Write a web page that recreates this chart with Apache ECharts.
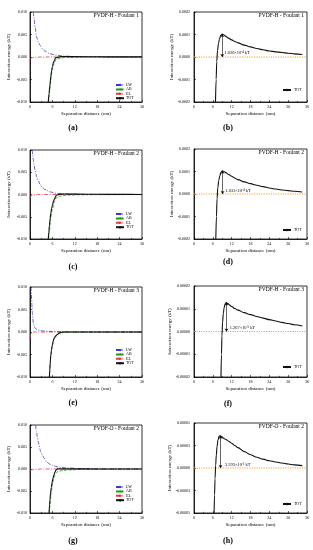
<!DOCTYPE html>
<html><head><meta charset="utf-8">
<script src="https://cdn.jsdelivr.net/npm/echarts@6/dist/echarts.min.js"></script>
<style>html,body{margin:0;padding:0;background:#fff}#c{width:313px;height:550px}</style>
</head><body><div id="c"></div>
<script>
// ---------- DATA ----------
const panelLetters = ['(a)','(b)','(c)','(d)','(e)','(f)','(g)','(h)'];
const panelTitles = ['PVDF-H - Foulant 1','PVDF-H - Foulant 1','PVDF-H - Foulant 2','PVDF-H - Foulant 2','PVDF-H - Foulant 3','PVDF-H - Foulant 3','PVDF-O - Foulant 2','PVDF-O - Foulant 2'];
const seriesNames = ['LW','AB','EL','TOT'];
const leftXTicks = [0,6,12,18,24,30];
const rightXTicks = [0,6,12,18,24,30,36];
const leftYLabels = ['-0.010','-0.005','0.000','0.005','0.010'];
const rightYLabelsBD = ['-0.0002','-0.0001','0.0000','0.0001','0.0002'];
const rightYLabelsF = ['-0.00002','-0.00001','0.00000','0.00001','0.00002'];
const rightYLabelsH = ['-0.00005','-0.00003','0.00000','0.00003','0.00005'];

// (a)
const lwA = [[0.9,0.0100],[1.1,0.0085],[1.34,0.0067],[1.79,0.0044],[2.2,0.0034],[2.69,0.0026],[3.3,0.0018],[4.03,0.0013],[5.37,0.0007],[7.16,0.0004],[9,0.0002],[12,0.0001],[18,0.00004],[30,0.00001]];
const abA = [[5.0,-0.0100],[5.3,-0.0073],[5.55,-0.0052],[5.8,-0.0036],[6.0,-0.0027],[6.3,-0.0018],[6.6,-0.0011],[6.9,-0.0007],[7.5,-0.0004],[8.5,-0.0002],[10,-0.0001],[14,-0.00003],[30,0]];
const elA = [[0,-0.0004],[0.5,-0.0002],[1,-0.0001],[2,-0.00004],[4,0],[30,0]];
const totA = [[4.9,-0.0100],[5.1,-0.0082],[5.3,-0.0065],[5.55,-0.0045],[5.8,-0.0030],[6.0,-0.0021],[6.3,-0.0012],[6.6,-0.0006],[6.9,-0.0002],[7.5,-0.00002],[8.5,0.00009],[9,0.0001],[12,0.000076],[18,0.000045],[24,0.000027],[30,0.000017]];
// (b)
const totB = [[6.85,-0.0002],[7.05,-0.0001],[7.25,-0.00002],[7.5,0.00003],[7.8,0.00006],[8.1,0.00008],[8.5,0.000095],[9.0,0.000102],[9.4,0.000099],[10,0.000093],[11,0.000084],[12,0.000076],[13,0.000069],[14,0.000063],[16,0.000053],[18,0.000045],[20,0.000038],[22,0.000032],[24,0.000027],[26,0.000023],[28,0.00002],[30,0.000017],[32,0.000014],[34.5,0.000011]];
const peakB = [9.0,0.000102]; const noteB = [9.7,0.00002]; const textB = '1.020×10⁻⁴ kT';
// (c)
const lwC = [[0.6,0.0100],[0.75,0.0088],[0.9,0.0077],[1.1,0.0066],[1.34,0.0055],[1.79,0.0040],[2.2,0.0031],[2.7,0.0023],[3.3,0.0016],[4.0,0.0011],[5.4,0.0006],[6.7,0.0003],[9,0.00015],[12,0.00008],[18,0.00003],[30,0.00001]];
const abC = [[5.0,-0.0100],[5.2,-0.0082],[5.55,-0.0054],[6.0,-0.0033],[6.5,-0.0017],[7.0,-0.0008],[7.5,-0.0005],[8.5,-0.0003],[10,-0.00015],[14,-0.00005],[30,-0.00001]];
const elC = [[0,-0.0008],[0.3,-0.0003],[0.8,-0.0001],[2,0],[30,0]];
const totC = [[4.9,-0.0100],[5.05,-0.0085],[5.2,-0.0069],[5.35,-0.0057],[5.55,-0.0043],[5.8,-0.0031],[6.0,-0.0024],[6.25,-0.0016],[6.5,-0.0011],[6.8,-0.0006],[7.0,-0.0002],[7.5,-0.00002],[8.3,0.00008],[9.05,0.000103],[12,0.000079],[18,0.000046],[24,0.000027],[30,0.000016]];
// (d)
const totD = [[6.95,-0.0002],[7.15,-0.0001],[7.35,-0.00002],[7.6,0.00003],[7.9,0.00006],[8.2,0.00008],[8.6,0.000097],[9.05,0.000103],[9.5,0.0001],[10,0.000096],[11,0.000087],[12,0.000079],[13,0.000071],[14,0.000064],[16,0.000054],[18,0.000046],[20,0.000039],[22,0.000033],[24,0.000027],[26,0.000022],[28,0.000018],[30,0.000015],[32,0.000012],[34.5,0.000009]];
const peakD = [9.1,0.000103]; const noteD = [10.0,0.000012]; const textD = '1.031×10⁻⁴ kT';
// (e)
const lwE = [[0.27,0.0100],[0.35,0.0085],[0.45,0.0071],[0.55,0.0055],[0.63,0.0042],[0.75,0.0030],[0.9,0.0020],[1.1,0.0013],[1.34,0.0009],[1.7,0.0006],[2.2,0.0004],[3.6,0.0002],[6,0.0001],[12,0.00003],[30,0]];
const abE = [[5.25,-0.0100],[5.42,-0.0070],[5.55,-0.0055],[6.0,-0.0030],[6.5,-0.0014],[7.2,-0.0007],[7.9,-0.0003],[9,-0.0001],[12,-0.00003],[30,0]];
const elE = [[0,-0.0015],[0.15,-0.0005],[0.5,-0.0001],[1,0],[30,0]];
const totE = [[5.2,-0.0100],[5.3,-0.0085],[5.42,-0.0068],[5.55,-0.0053],[5.75,-0.0040],[6.0,-0.0028],[6.25,-0.0019],[6.5,-0.0013],[6.85,-0.0009],[7.2,-0.0006],[7.9,-0.0002],[8.6,-0.00002],[10.3,0.0000127],[18,0.0000074],[30,0.0000035]];
// (f)
const totF = [[8.6,-0.00002],[8.75,-0.00001],[8.9,-0.000002],[9.1,0.000004],[9.35,0.000008],[9.6,0.0000105],[9.9,0.0000121],[10.3,0.0000127],[10.8,0.0000123],[11.4,0.0000116],[12,0.000011],[13,0.0000101],[14,0.0000094],[16,0.0000083],[18,0.0000074],[20,0.0000066],[22,0.0000059],[24,0.0000052],[26,0.0000046],[28,0.000004],[30,0.0000035],[32,0.000003],[34.5,0.0000024]];
const peakF = [10.35,0.0000127]; const noteF = [11.4,0.0000017]; const textF = '1.267×10⁻⁵ kT';
// (g)
const lwG = [[1.5,0.0100],[1.7,0.0087],[1.96,0.0073],[2.2,0.0062],[2.4,0.0054],[2.85,0.0040],[3.3,0.0032],[3.74,0.0025],[4.6,0.0015],[5.3,0.0011],[6.0,0.0008],[7.3,0.0005],[8.5,0.00035],[10,0.00023],[14,0.0001],[20,0.00004],[30,0.00001]];
const abG = [[5.2,-0.0100],[5.35,-0.0082],[5.5,-0.0067],[5.7,-0.0053],[5.9,-0.0041],[6.1,-0.0031],[6.4,-0.0023],[6.7,-0.0014],[7.0,-0.0009],[7.4,-0.0006],[8.3,-0.0004],[10,-0.00022],[14,-0.0001],[20,-0.00004],[30,-0.00001]];
const elG = [[0,-0.0003],[1,-0.0001],[3,0],[30,0]];
const totG = [[5.1,-0.0100],[5.25,-0.0082],[5.35,-0.0069],[5.5,-0.0055],[5.7,-0.0042],[5.9,-0.0031],[6.1,-0.0023],[6.4,-0.0014],[6.7,-0.0007],[7.0,-0.0002],[7.4,0.00002],[8.3,0.000036],[12,0.000028],[18,0.000015],[24,0.000008],[30,0.0000044]];
// (h)
const totH = [[6.4,-0.00005],[6.55,-0.00003],[6.7,-0.000012],[6.9,0.000003],[7.1,0.000014],[7.35,0.000024],[7.65,0.000031],[8.0,0.0000352],[8.3,0.0000359],[8.7,0.0000352],[9.3,0.0000335],[10,0.000032],[11,0.0000298],[12,0.0000275],[13,0.000025],[14,0.0000226],[16,0.0000182],[18,0.0000148],[20,0.000012],[22,0.0000099],[24,0.0000081],[26,0.0000067],[28,0.0000055],[30,0.0000044],[32,0.0000035],[34.5,0.0000026]];
const peakH = [8.45,0.0000359]; const noteH = [9.9,0.0000037]; const textH = '3.593×10⁻⁵ kT';

// ---------- LAYOUT / STYLE ----------
const SERIF = '"Liberation Serif","Times New Roman",serif';
const grids = [
  {left:30, top:12, width:112, height:90},
  {left:194, top:12, width:113, height:90},
  {left:30, top:150, width:112, height:89},
  {left:194, top:149, width:113, height:90},
  {left:30, top:287, width:112, height:90},
  {left:194, top:286, width:113, height:91},
  {left:30, top:425, width:112, height:88},
  {left:194, top:423, width:113, height:90}
];
const letterPos = [[73,128],[228,128],[73,267],[228,262],[73,403],[228,404],[73,541],[228,541]];
const leftLegendTop = [83,212,348,485];
const rightLegendTop = [88,228,365,502];

const styles = {
  LW:{color:'#3b3bc8', type:[4,1.5,1,1.5], width:0.8},
  AB:{color:'#1d9a1d', type:[3,1.5], width:0.8},
  EL:{color:'#e23a3a', type:[4,1.5,1,1.5], width:0.8},
  TOT:{color:'#111111', type:'solid', width:1.1}
};
const ZERO_COLOR = '#f5a030';

function fmtFrom(labels, min, step){
  return v => { const i = Math.round((v-min)/step); return labels[i] !== undefined ? labels[i] : ''; };
}

const xAxes=[], yAxes=[], series=[], legends=[], graphics=[];
const axisCommon = {
  axisLine:{show:true, onZero:false, lineStyle:{color:'#000', width:0.8}},
  axisTick:{show:true, inside:true, length:2, lineStyle:{color:'#000', width:0.6}},
  splitLine:{show:false},
  nameTextStyle:{fontFamily:SERIF, fontSize:5, color:'#000'}
};
const leftSets = [[lwA,abA,elA,totA],[lwC,abC,elC,totC],[lwE,abE,elE,totE],[lwG,abG,elG,totG]];
const rightSets = [
  {tot:totB, peak:peakB, note:noteB, text:textB, labels:rightYLabelsBD, lim:0.0002, step:0.0001},
  {tot:totD, peak:peakD, note:noteD, text:textD, labels:rightYLabelsBD, lim:0.0002, step:0.0001},
  {tot:totF, peak:peakF, note:noteF, text:textF, labels:rightYLabelsF, lim:0.00002, step:0.00001},
  {tot:totH, peak:peakH, note:noteH, text:textH, labels:rightYLabelsH, lim:0.00005, step:0.000025}
];

for (let p=0;p<8;p++){
  const isLeft = p%2===0;
  const row = Math.floor(p/2);
  const xt = isLeft ? leftXTicks : rightXTicks;
  xAxes.push(Object.assign({}, axisCommon, {
    type:'value', gridIndex:p, min:xt[0], max:xt[xt.length-1], interval:6,
    name:'Separation distance (nm)', nameLocation:'middle', nameGap:9,
    minorTick:{show:true, splitNumber:2, length:1.2, lineStyle:{color:'#000', width:0.5}},
    axisLabel:{fontFamily:SERIF, fontSize:4, color:'#000', margin:2.5, showMinLabel:true, showMaxLabel:true}
  }));
  if (isLeft){
    yAxes.push(Object.assign({}, axisCommon, {
      type:'value', gridIndex:p, min:-0.01, max:0.01, interval:0.005,
      name:'Interaction energy (kT)', nameLocation:'middle', nameGap:19,
      axisLabel:{fontFamily:SERIF, fontSize:4, color:'#000', margin:3, formatter:fmtFrom(leftYLabels,-0.01,0.005)}
    }));
    const set = leftSets[row];
    seriesNames.forEach((nm,k)=>{
      series.push({
        name:nm, type:'line', xAxisIndex:p, yAxisIndex:p, data:set[k],
        symbol:'none', smooth:0.35, smoothMonotone:'x', clip:true, z: nm==='TOT'?5:(nm==='EL'?3:4),
        lineStyle:styles[nm], itemStyle:{color:styles[nm].color}, silent:true
      });
    });
    legends.push({
      data:seriesNames, orient:'vertical', left:115, top:leftLegendTop[row], itemWidth:8, itemHeight:3, itemGap:0.4,
      selectedMode:false, padding:0,
      textStyle:{fontFamily:SERIF, fontSize:4, color:'#000', lineHeight:4, padding:[0,0,0,-3]}
    });
  } else {
    const rs = rightSets[row];
    yAxes.push(Object.assign({}, axisCommon, {
      type:'value', gridIndex:p, min:-rs.lim, max:rs.lim, interval:rs.step,
      name:'Interaction energy (kT)', nameLocation:'middle', nameGap:20,
      axisLabel:{fontFamily:SERIF, fontSize:4, color:'#000', margin:4, formatter:fmtFrom(rs.labels,-rs.lim,rs.step)}
    }));
    series.push({
      name:'zero', type:'line', xAxisIndex:p, yAxisIndex:p,
      data:[[xt[0],0],[xt[xt.length-1],0]], symbol:'none', silent:true, z:2,
      lineStyle:{color:ZERO_COLOR, type:'dotted', width:1.2}, itemStyle:{color:ZERO_COLOR}
    });
    series.push({
      name:'TOT', type:'line', xAxisIndex:p, yAxisIndex:p, data:rs.tot,
      symbol:'none', smooth:0.35, smoothMonotone:'x', clip:true, z:5,
      lineStyle:styles.TOT, itemStyle:{color:styles.TOT.color}, silent:true,
      markLine:{
        silent:true, animation:false, label:{show:false}, symbol:['arrow','arrow'], symbolSize:3,
        lineStyle:{color:'#000', type:'solid', width:0.6},
        data:[[{coord:[rs.peak[0], rs.peak[1]]},{coord:[rs.peak[0], 0]}]]
      },
      markPoint:{
        silent:true, animation:false,
        data:[{coord:rs.note, symbol:'circle', symbolSize:0.01,
          label:{show:true, position:'right', distance:0, formatter:rs.text, fontFamily:SERIF, fontSize:4.4, color:'#000'}}]
      }
    });
    legends.push({
      data:['TOT'], orient:'vertical', left:282, top:rightLegendTop[row], itemWidth:8, itemHeight:3,
      selectedMode:false, padding:0,
      textStyle:{fontFamily:SERIF, fontSize:4, color:'#000', lineHeight:4, padding:[0,0,0,-2]}
    });
  }
  const g = grids[p];
  graphics.push({type:'text', x:g.left+g.width-3, y:g.top+4, z:10,
    style:{text:panelTitles[p], font:'5.5px '+SERIF, fill:'#000', textAlign:'right', textVerticalAlign:'middle'}});
  graphics.push({type:'text', x:letterPos[p][0], y:letterPos[p][1], z:10,
    style:{text:panelLetters[p], font:'bold 8px '+SERIF, fill:'#000', textAlign:'center', textVerticalAlign:'middle'}});
}

const chart = echarts.init(document.getElementById('c'), null, {renderer:'canvas'});
chart.setOption({
  animation:false,
  backgroundColor:'#fff',
  grid: grids.map(g=>Object.assign({show:true, borderColor:'#000', borderWidth:0.8, backgroundColor:'transparent'}, g)),
  xAxis:xAxes, yAxis:yAxes, series:series, legend:legends, graphic:graphics
});
</script></body></html>
